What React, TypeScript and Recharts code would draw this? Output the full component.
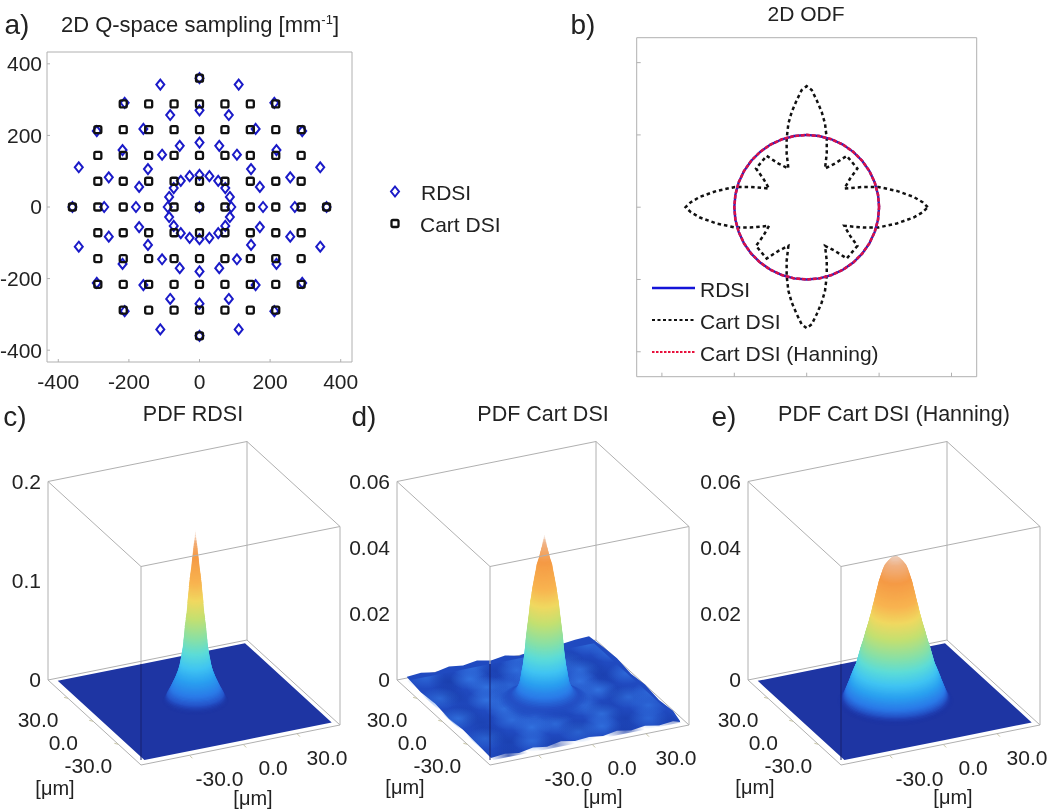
import {
  Area,
  ComposedChart,
  Line,
  Scatter,
  ScatterChart,
  XAxis,
  YAxis,
} from "recharts";

const FONT = "'Liberation Sans', Arial, sans-serif";
const INK = "#222";
const FRAME = "#b0b0b0";

// a) q-space sampling
const rdsiX = [
  0,
  90, 86, 73, 53, 28, 0, -28, -53, -73, -86, -90, -86, -73, -53, -28, 0, 28, 53, 73, 86,
  180, 171, 146, 106, 56, 0, -56, -106, -146, -171, -180, -171, -146, -106, -56, 0, 56, 106, 146, 171,
  270, 257, 218, 159, 83, 0, -83, -159, -218, -257, -270, -257, -218, -159, -83, 0, 83, 159, 218, 257,
  360, 342, 291, 212, 111, 0, -111, -212, -291, -342, -360, -342, -291, -212, -111, 0, 111, 212, 291, 342,
];
const rdsiY = [
  0,
  0, 28, 53, 73, 86, 90, 86, 73, 53, 28, 0, -28, -53, -73, -86, -90, -86, -73, -53, -28,
  0, 56, 106, 146, 171, 180, 171, 146, 106, 56, 0, -56, -106, -146, -171, -180, -171, -146, -106, -56,
  0, 83, 159, 218, 257, 270, 257, 218, 159, 83, 0, -83, -159, -218, -257, -270, -257, -218, -159, -83,
  0, 111, 212, 291, 342, 360, 342, 291, 212, 111, 0, -111, -212, -291, -342, -360, -342, -291, -212, -111,
];
const cartRowY = [360, 288, 216, 144, 72, 0, -72, -144, -216, -288, -360];
const cartRowX = [
  [0],
  [-216, -144, -72, 0, 72, 144, 216],
  [-288, -216, -144, -72, 0, 72, 144, 216, 288],
  [-288, -216, -144, -72, 0, 72, 144, 216, 288],
  [-288, -216, -144, -72, 0, 72, 144, 216, 288],
  [-360, -288, -216, -144, -72, 0, 72, 144, 216, 288, 360],
  [-288, -216, -144, -72, 0, 72, 144, 216, 288],
  [-288, -216, -144, -72, 0, 72, 144, 216, 288],
  [-288, -216, -144, -72, 0, 72, 144, 216, 288],
  [-216, -144, -72, 0, 72, 144, 216],
  [0],
];
const qTicks = [-400, -200, 0, 200, 400];

// b) ODF
const odfCartX = [
  1.673, 1.6, 1.475, 1.245, 0.99, 0.783, 0.52, 0.6, 0.7, 0.553, 0.39, 0.253, 0.277, 0.277, 0.253, 0.207, 0.138, 0.07, 0,
  -0.07, -0.138, -0.207, -0.253, -0.277, -0.277, -0.253, -0.39, -0.553, -0.7, -0.6, -0.52, -0.783, -0.99, -1.245, -1.475, -1.6, -1.673,
  -1.6, -1.475, -1.245, -0.99, -0.783, -0.52, -0.6, -0.7, -0.553, -0.39, -0.253, -0.277, -0.277, -0.253, -0.207, -0.138, -0.07, 0,
  0.07, 0.138, 0.207, 0.253, 0.277, 0.277, 0.253, 0.39, 0.553, 0.7, 0.6, 0.52, 0.783, 0.99, 1.245, 1.475, 1.6, 1.673,
];
const odfCartY = [
  0, 0.07, 0.143, 0.225, 0.28, 0.281, 0.258, 0.397, 0.535, 0.71, 0.604, 0.535, 0.743, 0.95, 1.157, 1.318, 1.48, 1.62, 1.674,
  1.62, 1.48, 1.318, 1.157, 0.95, 0.743, 0.535, 0.604, 0.71, 0.535, 0.397, 0.258, 0.281, 0.28, 0.225, 0.143, 0.07, 0,
  -0.07, -0.143, -0.225, -0.28, -0.281, -0.258, -0.397, -0.535, -0.71, -0.604, -0.535, -0.743, -0.95, -1.157, -1.318, -1.48, -1.62, -1.674,
  -1.62, -1.48, -1.318, -1.157, -0.95, -0.743, -0.535, -0.604, -0.71, -0.535, -0.397, -0.258, -0.281, -0.28, -0.225, -0.143, -0.07, 0,
];
const odfAngles = [
  0, 10, 20, 30, 40, 50, 60, 70, 80, 90, 100, 110, 120, 130, 140, 150, 160, 170, 180,
  190, 200, 210, 220, 230, 240, 250, 260, 270, 280, 290, 300, 310, 320, 330, 340, 350, 360,
];
const odfRdsiRadius = [
  1, 1, 1, 1, 1, 1, 1, 1, 1, 1, 1, 1, 1, 1, 1, 1, 1, 1, 1,
  1, 1, 1, 1, 1, 1, 1, 1, 1, 1, 1, 1, 1, 1, 1, 1, 1, 1,
];
const odfHanningRadius = [
  1, 1, 1, 1, 1, 1, 1, 1, 1, 1, 1, 1, 1, 1, 1, 1, 1, 1, 1,
  1, 1, 1, 1, 1, 1, 1, 1, 1, 1, 1, 1, 1, 1, 1, 1, 1, 1,
];
const odfTicks = [-2, -1, 0, 1, 2];

// c) d) e) radial peak profiles, z in PDF units and radius in um
const peakZRdsi = [
  0, 0.002, 0.004, 0.006, 0.0081, 0.0111, 0.0141, 0.0181, 0.0222, 0.0262, 0.0302, 0.0353, 0.0403, 0.0463, 0.0524, 0.0584,
  0.0655, 0.0725, 0.0806, 0.0887, 0.0967, 0.1048, 0.1128, 0.1209, 0.129, 0.137, 0.1451, 0.1531, 0.1612, 0.1673, 0.1713,
];
const peakRRdsi = [
  16.7, 15.9, 15.2, 14.6, 14.1, 13.1, 12.4, 11.4, 10.4, 9.6, 8.8, 8.1, 7.6, 7.0, 6.5, 6.1,
  5.8, 5.5, 5.0, 4.5, 4.1, 3.8, 3.4, 3.0, 2.5, 2.0, 1.6, 1.2, 0.7, 0.3, 0.1,
];
const peakZCart = [
  0, 0.0006, 0.0012, 0.0021, 0.003, 0.0042, 0.0054, 0.007, 0.0088, 0.0106, 0.0127, 0.0151, 0.0175, 0.02,
  0.0224, 0.0248, 0.0272, 0.0296, 0.032, 0.0345, 0.0369, 0.0393, 0.0411, 0.0429, 0.0447, 0.0466, 0.0484, 0.0499,
];
const peakRCart = [
  23, 21, 19, 16.5, 14.6, 13.4, 12.6, 12.1, 11.6, 11.0, 10.5, 10.0, 9.6, 9.2,
  8.7, 8.2, 7.7, 7.3, 6.6, 6.0, 5.3, 4.5, 4.0, 3.0, 2.2, 1.4, 0.8, 0.2,
];
const peakZHanning = [
  0, 0.0006, 0.0012, 0.0021, 0.003, 0.0042, 0.0054, 0.007, 0.0088, 0.0106, 0.0124, 0.0142, 0.0157, 0.0175, 0.0193, 0.0212,
  0.023, 0.0248, 0.0266, 0.0284, 0.0302, 0.032, 0.0339, 0.0357, 0.0375, 0.0393, 0.0408, 0.042, 0.0429, 0.0435, 0.0438,
];
const peakRHanning = [
  29.3, 27.8, 26.8, 26.0, 25.3, 24.5, 23.7, 22.7, 21.5, 20.2, 19.2, 18.4, 17.7, 16.7, 15.8, 14.9,
  14.0, 13.1, 12.3, 11.6, 10.8, 10.1, 9.3, 8.6, 7.6, 6.6, 5.6, 4.0, 2.5, 1.3, 0.5,
];

// d) noise floor of the Cartesian reconstruction, rows run from back (y high) to front
const noiseX = [-45, -32, -19, -6, 7, 20, 33, 46];
const noiseY = [46, 33, 20, 7, -6, -19, -32, -45];
const noiseRowShift = [0, 6, -4, 3, -6, 5, -3, 4];
const noiseZ = [
  [0.0012, -0.0014, 0.0016, -0.001, 0.0014, -0.0016, -0.0018, 0.0014],
  [-0.0016, 0.0018, -0.0008, 0.0016, -0.0012, 0.0012, -0.0014, 0.0016],
  [0.0014, -0.0006, 0.002, 0.0012, 0.0018, -0.0012, 0.0016, -0.0012],
  [-0.0012, 0.0018, 0.0012, 0.0022, 0.002, 0.0018, -0.0008, 0.0014],
  [0.0016, -0.001, 0.0018, 0.0024, 0.0026, 0.0014, 0.0018, -0.0012],
  [-0.0014, 0.0016, 0.0012, -0.0006, 0.0018, -0.001, 0.0014, 0.0016],
  [0.0012, -0.0012, 0.0018, 0.0014, -0.0014, 0.0016, -0.0012, 0.0014],
  [-0.0016, 0.0014, -0.0012, 0.0012, 0.0016, -0.0014, 0.0012, -0.001],
];
const noiseEdgeH = [10, 24, 38, 52, 66, 80, 94, 108, 122, 136, 150, 164, 178, 192, 206, 220, 234, 248, 262, 276, 283];
const noiseEdgeUp = [
  0.0012, 0.0016, 0.0009, 0.0018, 0.0012, 0.0019, 0.001, 0.0017, 0.0008, 0.0016, 0.0014, 0.0017, 0.0022, 0.0024, 0.0014, 0.0018, 0.001,
  0.0016, 0.0008, 0.0014, 0.0002,
];
const noiseEdgeLo = [
  0.0012, 0.0004, 0.001, 0.0002, 0.0008, 0.0004, 0, 0.0012, 0.0006, 0.0014, 0.0008, 0.0016, 0.0008, 0.0012, 0.0006, 0.0014, 0.0006,
  0.0012, 0.0004, 0.0008, 0.0002,
];
const flatEdgeH = [9.7, 96.4, 197, 283.7];
const flatEdge = [0, 0, 0, 0];

const axisTicksUm = [-30, 0, 30];

// colour ramp over z / peak height, first stop is the floor colour of the panel
const rampAt = [0, 0.03, 0.08, 0.15, 0.22, 0.3, 0.38, 0.5, 0.6, 0.7, 0.85, 0.95, 1];
const rampColor = [
  [30, 53, 163], [36, 78, 196], [42, 122, 232], [42, 160, 240], [64, 196, 242], [92, 220, 216], [134, 224, 168],
  [196, 224, 112], [240, 216, 96], [248, 180, 80], [245, 154, 69], [240, 176, 128], [236, 208, 192],
];

function ramp(f: number, floor: number[]) {
  let i = 0;
  while (i < rampAt.length - 2 && f > rampAt[i + 1]) i++;
  const t = Math.min(1, (f - rampAt[i]) / (rampAt[i + 1] - rampAt[i]));
  const from = i === 0 ? floor : rampColor[i];
  const c = from.map((v, k) => Math.round(v + (rampColor[i + 1][k] - v) * t));
  return `rgb(${c[0]},${c[1]},${c[2]})`;
}

// oblique projection of the surface boxes: um -> horizontal position and height above the z=0 corner
const UM_MIN = -57;
const UM_SPAN = 111;
const PX_PER_FULL_Z = 198.5;
const RING_RX = 1.98;
const RING_RY = 0.846;

function projH(x: number, y: number) {
  return 93 + 199 * ((x - UM_MIN) / UM_SPAN) - 93 * ((y - UM_MIN) / UM_SPAN);
}
function projV(x: number, y: number) {
  return -85 + 40 * ((x - UM_MIN) / UM_SPAN) + 85 * ((y - UM_MIN) / UM_SPAN);
}

function Caption({ x, y, size = 21, children }: any) {
  return (
    <div
      style={{
        position: "absolute",
        left: x,
        top: y,
        transform: "translate(-50%, -50%)",
        whiteSpace: "nowrap",
        fontFamily: FONT,
        fontSize: size,
        lineHeight: 1,
        color: INK,
      }}
    >
      {children}
    </div>
  );
}

function DiamondMark({ cx, cy }: any) {
  return (
    <path
      d={`M${cx} ${cy - 5}L${cx + 4} ${cy}L${cx} ${cy + 5}L${cx - 4} ${cy}Z`}
      fill="none"
      stroke="#1a1ac8"
      strokeWidth={2}
    />
  );
}

function SquareMark({ cx, cy }: any) {
  return (
    <rect x={cx - 3.5} y={cy - 3.5} width={7} height={7} rx={1.5} fill="none" stroke="#111" strokeWidth={2.3} />
  );
}

function SamplingPanel() {
  const rdsi = rdsiX.map((x, i) => ({ x, y: rdsiY[i] }));
  const cart = cartRowY.flatMap((y, i) => cartRowX[i].map((x) => ({ x, y })));
  const tickStyle = { fontSize: 21, fill: INK };
  return (
    <div style={{ position: "absolute", left: 0, top: 0 }}>
      <ScatterChart width={530} height={400} margin={{ top: 51, right: 177, bottom: 0, left: 0 }}>
        <XAxis
          type="number"
          dataKey="x"
          domain={[-432, 432]}
          ticks={qTicks}
          interval={0}
          height={38}
          stroke={FRAME}
          tickSize={-3}
          tickMargin={15}
          tick={tickStyle}
        />
        <YAxis
          type="number"
          dataKey="y"
          domain={[-433, 433]}
          ticks={qTicks}
          interval={0}
          width={47}
          stroke={FRAME}
          tickSize={-3}
          tickMargin={8}
          tick={tickStyle}
        />
        <XAxis xAxisId="top" orientation="top" type="number" domain={[-432, 432]} ticks={qTicks} height={1} stroke={FRAME} tickSize={-3} tickFormatter={() => ""} />
        <YAxis yAxisId="right" orientation="right" type="number" domain={[-433, 433]} ticks={qTicks} width={1} stroke={FRAME} tickSize={-3} tickFormatter={() => ""} />
        <Scatter name="RDSI" data={rdsi} shape={DiamondMark} isAnimationActive={false} />
        <Scatter name="Cart DSI" data={cart} shape={SquareMark} isAnimationActive={false} />
      </ScatterChart>
    </div>
  );
}

function SamplingLegend() {
  return (
    <>
      <svg width={20} height={60} style={{ position: "absolute", left: 385, top: 176 }}>
        <DiamondMark cx={10} cy={15.5} />
        <SquareMark cx={10} cy={47.5} />
      </svg>
      <div style={{ position: "absolute", left: 421, top: 177, fontFamily: FONT, fontSize: 21, lineHeight: "32px", color: INK }}>
        <div>RDSI</div>
        <div style={{ marginLeft: -1 }}>Cart DSI</div>
      </div>
    </>
  );
}

function OdfPanel() {
  const cart = odfCartX.map((x, i) => ({ x, y: odfCartY[i] }));
  const polar = (r: number[]) =>
    odfAngles.map((a, i) => ({
      x: r[i] * Math.cos((a * Math.PI) / 180),
      y: r[i] * Math.sin((a * Math.PI) / 180),
    }));
  return (
    <div style={{ position: "absolute", left: 630, top: 30 }}>
      <ComposedChart width={354} height={354} margin={{ top: 6.7, right: 6.3, bottom: 6.3, left: 5.7 }}>
        <XAxis type="number" dataKey="x" domain={[-2.348, 2.348]} ticks={odfTicks} height={1} stroke={FRAME} tickSize={-4} tickFormatter={() => ""} />
        <YAxis type="number" domain={[-2.345, 2.345]} ticks={odfTicks} width={1} stroke={FRAME} tickSize={-4} tickFormatter={() => ""} />
        <XAxis xAxisId="top" orientation="top" type="number" domain={[-2.348, 2.348]} ticks={odfTicks} height={1} stroke={FRAME} tickSize={-4} tickFormatter={() => ""} />
        <YAxis yAxisId="right" orientation="right" type="number" domain={[-2.345, 2.345]} ticks={odfTicks} width={1} stroke={FRAME} tickSize={-4} tickFormatter={() => ""} />
        <Line name="Cart DSI" data={cart} dataKey="y" type="linear" stroke="#111" strokeWidth={2.5} strokeDasharray="3.5 3" dot={false} isAnimationActive={false} />
        <Line name="RDSI" data={polar(odfRdsiRadius)} dataKey="y" type="linear" stroke="#2222c0" strokeWidth={2.4} dot={false} isAnimationActive={false} />
        <Line name="Cart DSI (Hanning)" data={polar(odfHanningRadius)} dataKey="y" type="linear" stroke="#d8104a" strokeWidth={2.6} strokeDasharray="4 1.5" dot={false} isAnimationActive={false} />
      </ComposedChart>
    </div>
  );
}

function OdfLegend() {
  return (
    <>
      <svg width={46} height={80} style={{ position: "absolute", left: 651, top: 280 }}>
        <line x1={1} x2={44} y1={8} y2={8} stroke="#1414d8" strokeWidth={2.4} />
        <line x1={1} x2={44} y1={40} y2={40} stroke="#111" strokeWidth={2} strokeDasharray="3 2.5" />
        <line x1={1} x2={44} y1={72} y2={72} stroke="#e8103c" strokeWidth={2.2} strokeDasharray="2.5 1.5" />
      </svg>
      <div style={{ position: "absolute", left: 700, top: 274, fontFamily: FONT, fontSize: 21, lineHeight: "32px", color: INK, whiteSpace: "nowrap" }}>
        <div>RDSI</div>
        <div>Cart DSI</div>
        <div>Cart DSI (Hanning)</div>
      </div>
    </>
  );
}

function SurfacePanel({ id, left, zMax, zTicks, peakZ, peakR, floorRgb, edgeH, edgeUp, edgeLo, noise }: any) {
  const s = zMax / PX_PER_FULL_Z;
  const pt = (x: number, y: number, z = 0) => ({ h: projH(x, y), z: z + projV(x, y) * s });
  const xA = UM_MIN;
  const xB = UM_MIN + UM_SPAN;

  const backEdges = [
    [pt(xA, xB), pt(xA, xB, zMax)],
    [pt(xB, xB), pt(xB, xB, zMax)],
    [pt(xB, xA), pt(xB, xA, zMax)],
    [pt(xA, xB, zMax), pt(xB, xB, zMax)],
    [pt(xB, xB, zMax), pt(xB, xA, zMax)],
    [pt(xA, xB), pt(xB, xB)],
    [pt(xB, xB), pt(xB, xA)],
  ];
  const frontEdges = [
    [pt(xA, xB), pt(xA, xA)],
    [pt(xA, xA), pt(xB, xA)],
    [pt(xA, xB, zMax), pt(xA, xA, zMax)],
    [pt(xA, xA, zMax), pt(xB, xA, zMax)],
    [pt(xA, xA, zMax), { h: 93, z: 16 * s }],
  ];
  const frontOnFloor = [{ h: 93, z: 16 * s }, { h: 93, z: -80 * s }];

  // floor outline as a band: corners in um, small edge relief from the lists
  const fx0 = -53;
  const fx1 = 51.5;
  const fy0 = -52.5;
  const fy1 = 51;
  const fLeft = pt(fx0, fy1);
  const fBack = pt(fx1, fy1);
  const fFront = pt(fx0, fy0);
  const fRight = pt(fx1, fy0);
  const along = (a: any, m: any, b: any, h: number) => {
    const [p, q] = h <= m.h ? [a, m] : [m, b];
    return p.z + ((q.z - p.z) * (h - p.h)) / (q.h - p.h);
  };
  const floor = edgeH.map((h: number, i: number) => ({
    h,
    band: [along(fLeft, fFront, fRight, h) + edgeLo[i], along(fLeft, fBack, fRight, h) + edgeUp[i]],
  }));
  const floorFill = `rgb(${floorRgb.join(",")})`;
  const clipPoints = [fLeft, fBack, fRight, fFront]
    .map((p) => `${52 + p.h},${12 + 240 - p.z / s}`)
    .join(" ");

  const bumps = noise
    ? noise.rows.flatMap((row: number[], j: number) =>
        row.map((dz: number, i: number) => ({ ...pt(noise.xs[i] + noise.shift[j], noise.ys[j], dz), dz })),
      )
    : [];
  const peakTop = peakZ[peakZ.length - 1];
  const rings = peakZ.map((z: number, i: number) => {
    const last = i === peakZ.length - 1;
    return {
      ...pt(0, 0, z),
      r: peakR[i],
      nextR: last ? peakR[i] : peakR[i + 1],
      level: z / peakTop,
      nextLevel: last ? z / peakTop : peakZ[i + 1] / peakTop,
      dv: last ? 0 : (peakZ[i + 1] - z) / s,
    };
  });

  const leftTicks = axisTicksUm.map((t) => ({ ...pt(xA, t), label: t.toFixed(1), side: "left" }));
  const bottomTicks = axisTicksUm.map((t) => ({ ...pt(t, xA), label: t.toFixed(1), side: "bottom" }));

  const renderTick = ({ cx, cy, payload }: any) => {
    const left = payload.side === "left";
    return (
      <g>
        <line x1={cx} y1={cy} x2={cx + (left ? -4 : 3)} y2={cy + (left ? -1 : 3)} stroke="#c9c6a6" />
        <text x={cx + (left ? -30 : 30)} y={cy + (left ? 29 : 31)} textAnchor="middle" fontSize={21} fill={INK}>
          {payload.label}
        </text>
      </g>
    );
  };
  // one profile step, painted as thin slices so the shading runs smoothly up the peak;
  // the lowest slices are see-through so the foot melts into the floor
  const renderRing = ({ cx, cy, payload: p }: any) => {
    const n = Math.max(1, Math.ceil(p.dv / 1));
    return (
      <g>
        {Array.from({ length: n }, (_, k) => {
          const t = k / n;
          const r = p.r + (p.nextR - p.r) * t;
          const level = p.level + (p.nextLevel - p.level) * t;
          return (
            <ellipse
              key={k}
              cx={cx}
              cy={cy - p.dv * t}
              rx={r * RING_RX}
              ry={r * RING_RY}
              fill={ramp(level, floorRgb)}
              fillOpacity={Math.min(1, 0.08 + level / 0.07)}
            />
          );
        })}
      </g>
    );
  };
  const renderBump = ({ cx, cy, payload }: any) => (
    <ellipse
      cx={cx}
      cy={cy}
      rx={20}
      ry={11}
      clipPath={`url(#${id}-floor)`}
      fill={`url(#${id}-${payload.dz > 0 ? "up" : "down"})`}
      opacity={Math.min(1, Math.abs(payload.dz) / 0.0018)}
    />
  );

  return (
    <div style={{ position: "absolute", left: left - 52, top: 428, fontFamily: FONT }}>
      <ComposedChart width={364} height={382} margin={{ top: 12, right: 20, bottom: 45, left: 0 }}>
        <defs>
          <clipPath id={`${id}-floor`}>
            <polygon points={clipPoints} />
          </clipPath>
          <radialGradient id={`${id}-up`}>
            <stop offset="0%" stopColor="#3478e4" stopOpacity={0.85} />
            <stop offset="100%" stopColor="#3478e4" stopOpacity={0} />
          </radialGradient>
          <radialGradient id={`${id}-down`}>
            <stop offset="0%" stopColor="#173aa6" stopOpacity={0.85} />
            <stop offset="100%" stopColor="#173aa6" stopOpacity={0} />
          </radialGradient>
        </defs>
        <XAxis type="number" dataKey="h" domain={[0, 292]} hide />
        <YAxis
          type="number"
          dataKey="z"
          domain={[-85 * s, 240 * s]}
          ticks={zTicks}
          interval={0}
          width={52}
          axisLine={false}
          tickLine={false}
          tickSize={0}
          tickMargin={7}
          tick={{ fontSize: 21, fill: INK }}
        />
        {backEdges.map((e, i) => (
          <Line key={`b${i}`} data={e} dataKey="z" type="linear" stroke={FRAME} strokeWidth={1} dot={false} isAnimationActive={false} legendType="none" zIndex={100} />
        ))}
        <Area data={floor} dataKey="band" type="linear" stroke="none" fill={floorFill} fillOpacity={1} dot={false} activeDot={false} isAnimationActive={false} zIndex={200} />
        {noise && <Scatter data={bumps} shape={renderBump} isAnimationActive={false} zIndex={300} />}
        <Scatter data={rings} shape={renderRing} isAnimationActive={false} zIndex={400} />
        {frontEdges.map((e, i) => (
          <Line key={`f${i}`} data={e} dataKey="z" type="linear" stroke={FRAME} strokeWidth={1} dot={false} isAnimationActive={false} legendType="none" zIndex={500} />
        ))}
        <Line data={frontOnFloor} dataKey="z" type="linear" stroke="#17206e" strokeWidth={1} dot={false} isAnimationActive={false} legendType="none" zIndex={500} />
        <Scatter data={[...leftTicks, ...bottomTicks]} shape={renderTick} isAnimationActive={false} zIndex={600} />
      </ComposedChart>
    </div>
  );
}

export default function App() {
  return (
    <div style={{ position: "absolute", left: 0, top: 0, width: 1050, height: 810, background: "#fff", fontFamily: FONT, filter: "blur(0.6px)", overflow: "hidden" }}>
      <SamplingPanel />
      <SamplingLegend />
      <OdfPanel />
      <OdfLegend />
      <SurfacePanel
        id="c"
        left={47.7}
        zMax={0.2}
        zTicks={[0, 0.1, 0.2]}
        peakZ={peakZRdsi}
        peakR={peakRRdsi}
        floorRgb={[30, 53, 163]}
        edgeH={flatEdgeH}
        edgeUp={flatEdge}
        edgeLo={flatEdge}
      />
      <SurfacePanel
        id="d"
        left={397.3}
        zMax={0.06}
        zTicks={[0, 0.02, 0.04, 0.06]}
        peakZ={peakZCart}
        peakR={peakRCart}
        floorRgb={[32, 74, 192]}
        edgeH={noiseEdgeH}
        edgeUp={noiseEdgeUp}
        edgeLo={noiseEdgeLo}
        noise={{ xs: noiseX, ys: noiseY, shift: noiseRowShift, rows: noiseZ }}
      />
      <SurfacePanel
        id="e"
        left={747.7}
        zMax={0.06}
        zTicks={[0, 0.02, 0.04, 0.06]}
        peakZ={peakZHanning}
        peakR={peakRHanning}
        floorRgb={[30, 53, 163]}
        edgeH={flatEdgeH}
        edgeUp={flatEdge}
        edgeLo={flatEdge}
      />

      <Caption x={17} y={25} size={28}>a)</Caption>
      <Caption x={583} y={25} size={28}>b)</Caption>
      <Caption x={15} y={417} size={28}>c)</Caption>
      <Caption x={364} y={417} size={28}>d)</Caption>
      <Caption x={724} y={417} size={28}>e)</Caption>

      <Caption x={200} y={25} size={22}>
        2D Q-space sampling [mm<sup style={{ fontSize: 13, lineHeight: 0 }}>-1</sup>]
      </Caption>
      <Caption x={806} y={13} size={21}>2D ODF</Caption>
      <Caption x={193} y={415} size={21.5}>PDF RDSI</Caption>
      <Caption x={543} y={415} size={21.5}>PDF Cart DSI</Caption>
      <Caption x={894} y={415} size={21.5}>PDF Cart DSI (Hanning)</Caption>

      <Caption x={55} y={788} size={20}>[μm]</Caption>
      <Caption x={253} y={798} size={20}>[μm]</Caption>
      <Caption x={405} y={787} size={20}>[μm]</Caption>
      <Caption x={603} y={797} size={20}>[μm]</Caption>
      <Caption x={755} y={787} size={20}>[μm]</Caption>
      <Caption x={953} y={797} size={20}>[μm]</Caption>
    </div>
  );
}
